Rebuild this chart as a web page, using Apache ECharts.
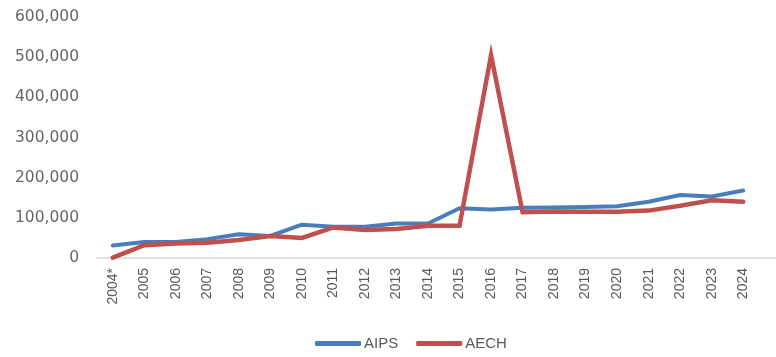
<!DOCTYPE html>
<html>
<head>
<meta charset="utf-8">
<script src="https://cdn.jsdelivr.net/npm/echarts@6/dist/echarts.min.js"></script>
<style>
  html, body { margin: 0; padding: 0; background: #fff; }
  #chart { width: 776px; height: 357px; }
</style>
</head>
<body>
<div id="chart"></div>
<script>
// ============================= data =============================
const years = ['2004*', '2005', '2006', '2007', '2008', '2009', '2010', '2011', '2012', '2013',
    '2014', '2015', '2016', '2017', '2018', '2019', '2020', '2021', '2022', '2023', '2024'];
const aips = [31000, 40000, 40000, 47000, 59000, 55000, 83000, 78000, 78000, 86000,
    86000, 124000, 121000, 125000, 126000, 127000, 129000, 140000, 157000, 153000, 168000];
const aech = [1000, 32000, 36000, 38000, 45000, 55000, 50000, 76000, 70000, 72000,
    80000, 80000, 505000, 114000, 116000, 115000, 115000, 118000, 130000, 144000, 140000];
const yTicks = { min: 0, max: 600000, step: 100000 };

// ============================= option =============================
let option = {
    animation: false,
    backgroundColor: '#ffffff',
    grid: { left: 97, right: 17, top: 17, bottom: 99 },
    legend: {
        data: ['AIPS', 'AECH'],
        left: 310,
        top: 331,
        icon: 'roundRect',
        itemWidth: 46,
        itemHeight: 5,
        itemGap: 18,
        textStyle: { fontFamily: 'Liberation Sans', fontSize: 15, color: '#595959', padding: [0, 0, 0, -2] }
    },
    xAxis: {
        type: 'category',
        data: years,
        boundaryGap: true,
        axisLine: { lineStyle: { color: '#d9d9d9', width: 1.5 } },
        axisTick: { show: false },
        axisLabel: {
            rotate: 90,
            margin: 10,
            interval: 0,
            fontFamily: 'Liberation Sans',
            fontSize: 14,
            color: '#595959'
        },
        splitLine: { show: false }
    },
    yAxis: {
        type: 'value',
        min: yTicks.min,
        max: yTicks.max,
        interval: yTicks.step,
        axisLine: { show: false },
        axisTick: { show: false },
        splitLine: { show: false },
        axisLabel: {
            margin: 18,
            fontFamily: 'DejaVu Sans',
            fontSize: 15.5,
            color: '#666666',
            formatter: v => v.toLocaleString('en-US')
        }
    },
    series: [
        {
            name: 'AIPS',
            type: 'line',
            data: aips,
            symbol: 'none',
            lineStyle: { color: '#4a7ebb', width: 4, cap: 'round', join: 'round' },
            itemStyle: { color: '#4a7ebb' },
            z: 2
        },
        {
            name: 'AECH',
            type: 'line',
            data: aech,
            symbol: 'none',
            lineStyle: { color: '#c0504d', width: 4.5, cap: 'round', join: 'miter' },
            itemStyle: { color: '#c0504d' },
            z: 3
        }
    ]
};

// ============================= render =============================
let chart = echarts.init(document.getElementById('chart'));
chart.setOption(option);

// the category axis line runs a little past the last band, to the chart edge
let axisY = chart.convertToPixel({ yAxisIndex: 0 }, 0);
let gridRight = chart.getWidth() - option.grid.right;
chart.setOption({
    graphic: [{
        type: 'line',
        shape: { x1: gridRight, y1: axisY, x2: chart.getWidth(), y2: axisY },
        style: { stroke: '#d9d9d9', lineWidth: 1.5 },
        z: 1
    }]
});
</script>
</body>
</html>
